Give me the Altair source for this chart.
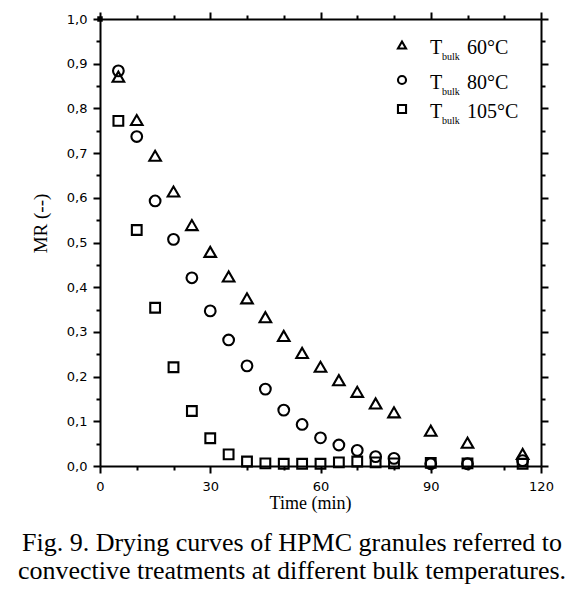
import altair as alt
import pandas as pd

# ---- data ----
time_min = [5, 10, 15, 20, 25, 30, 35, 40, 45, 50, 55, 60, 65, 70, 75, 80, 90, 100, 115]
mr_60 = [0.871, 0.774, 0.694, 0.614, 0.539, 0.479, 0.424, 0.375, 0.333, 0.291, 0.253,
         0.222, 0.192, 0.166, 0.140, 0.120, 0.079, 0.052, 0.027]
mr_80 = [0.884, 0.737, 0.593, 0.507, 0.421, 0.347, 0.282, 0.224, 0.172, 0.125, 0.093,
         0.063, 0.047, 0.035, 0.021, 0.017, 0.005, 0.005, 0.012]
mr_105 = [0.772, 0.528, 0.354, 0.221, 0.123, 0.062, 0.026, 0.010, 0.006, 0.005, 0.005,
          0.005, 0.008, 0.010, 0.008, 0.006, 0.007, 0.006, 0.005]
start_time = [0]
start_mr = [1.0]

series_names = ["60", "80", "105"]
legend_temps = ["60°C", "80°C", "105°C"]
series_shapes = ["triangle-up", "circle", "square"]
caption_lines = ["Fig. 9. Drying curves of HPMC granules referred to",
                 "convective treatments at different bulk temperatures."]
x_ticks = list(range(0, 121, 10))
y_ticks = [round(i * 0.05, 2) for i in range(21)]

rows = []
for name, vals in zip(series_names, [mr_60, mr_80, mr_105]):
    for t, v in zip(time_min, vals):
        rows.append({"time": t, "mr": v, "series": name})
df = pd.DataFrame(rows)
df_start = pd.DataFrame({"time": start_time, "mr": start_mr})

W, H = 441, 447
SERIF = "Liberation Serif"
SANS = "DejaVu Sans"

x_scale = alt.Scale(domain=[0, 120], nice=False, zero=False)
y_scale = alt.Scale(domain=[0, 1], nice=False, zero=False)

x_tick_size = {"condition": {"test": "datum.value % 30 == 0", "value": 7}, "value": 4}
y_tick_size = {"condition": {"test": "round(datum.value*100) % 10 == 0", "value": 7}, "value": 4}

common_axis = dict(domainColor="black", domainWidth=2, tickColor="black", tickWidth=2,
                   domainOpacity=1, tickOpacity=1,
                   grid=False, labelFont=SANS, labelFontSize=13, labelColor="#000")

x_axis = alt.Axis(values=x_ticks, tickSize=x_tick_size,
                  labelExpr="datum.value % 30 == 0 ? datum.label : ''",
                  labelPadding=7, title="Time (min)", titleFont=SERIF, titleFontSize=18,
                  titleFontWeight="normal", titleColor="#000", titleX=210, titleY=28,
                  orient="bottom", labelFlush=False, labelOverlap=False, **common_axis)
y_axis = alt.Axis(values=y_ticks, tickSize=y_tick_size,
                  labelExpr="round(datum.value*100) % 10 == 0 ? replace(format(datum.value, '.1f'), '.', ',') : ''",
                  labelPadding=6, title="MR (--)", titleFont=SERIF, titleFontSize=19,
                  titleFontWeight="normal", titleColor="#000", titleX=-50, titleY=204,
                  orient="left", labelFlush=False, labelOverlap=False, **common_axis)
x_axis_top = alt.Axis(values=x_ticks, tickSize=x_tick_size, labels=False, title=None,
                      orient="top", **common_axis)
y_axis_right = alt.Axis(values=y_ticks, tickSize=y_tick_size, labels=False, title=None,
                        orient="right", **common_axis)

shape_scale = alt.Scale(domain=series_names, range=series_shapes)
size_scale = alt.Scale(domain=series_names, range=[135, 95, 80])

points = alt.Chart(df).mark_point(filled=False, color="black", strokeWidth=2.1, opacity=1,
                                  clip=False).encode(
    x=alt.X("time:Q", scale=x_scale, axis=x_axis),
    y=alt.Y("mr:Q", scale=y_scale, axis=y_axis),
    shape=alt.Shape("series:N", scale=shape_scale, legend=None),
    size=alt.Size("series:N", scale=size_scale, legend=None),
)

mirror = alt.Chart(df).mark_point(opacity=0).encode(
    x=alt.X("time:Q", scale=x_scale, axis=x_axis_top),
    y=alt.Y("mr:Q", scale=y_scale, axis=y_axis_right),
)

start = alt.Chart(df_start).mark_point(shape="square", filled=True, color="black", size=30,
                                       opacity=1, clip=False).encode(
    x=alt.X("time:Q", scale=x_scale, axis=None),
    y=alt.Y("mr:Q", scale=y_scale, axis=None),
)

one = pd.DataFrame({"k": [0]})
legend_layers = []
sym_y = [26, 61, 90]
for i, (temp, shp) in enumerate(zip(legend_temps, series_shapes)):
    sy = sym_y[i]
    base_y = sy + 9
    legend_layers.append(alt.Chart(one).mark_point(shape=shp, filled=False, color="black",
                                                   strokeWidth=2.1, opacity=1, size=65).encode(
        x=alt.value(302), y=alt.value(sy)))
    legend_layers.append(alt.Chart(one).mark_text(text="T", font=SERIF, fontSize=20,
                                                  align="left", baseline="alphabetic",
                                                  color="#000").encode(
        x=alt.value(330), y=alt.value(base_y)))
    legend_layers.append(alt.Chart(one).mark_text(text="bulk", font=SERIF, fontSize=10,
                                                  align="left", baseline="alphabetic",
                                                  color="#000").encode(
        x=alt.value(342), y=alt.value(base_y + 6)))
    legend_layers.append(alt.Chart(one).mark_text(text=temp, font=SERIF, fontSize=20,
                                                  align="left", baseline="alphabetic",
                                                  color="#000").encode(
        x=alt.value(367), y=alt.value(base_y)))

caption_layers = []
for i, line in enumerate(caption_lines):
    caption_layers.append(alt.Chart(one).mark_text(text=line, font=SERIF, fontSize=26,
                                                   align="center", baseline="alphabetic",
                                                   color="#000").encode(
        x=alt.value(192), y=alt.value(532 + 28 * i)))

chart = alt.layer(points, mirror, start, *legend_layers, *caption_layers).resolve_axis(
    x="independent", y="independent"
).properties(
    width=W, height=H,
    autosize=alt.AutoSizeParams(type="none"),
    padding={"left": 92, "top": 11, "right": 35, "bottom": 130},
    background="white",
).configure_view(stroke=None)

chart.save("out.html", embed_options={"renderer": "svg", "actions": False})
